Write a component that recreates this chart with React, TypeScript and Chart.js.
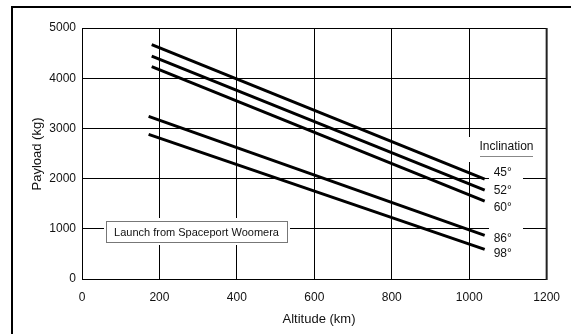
import React, { useEffect, useRef } from "react";
import { Chart, registerables } from "chart.js";

Chart.register(...registerables);

const inclinations = ["45°", "52°", "60°", "86°", "98°"];
const startAltitude = [180, 180, 180, 172, 172];
const endAltitude = [1040, 1040, 1040, 1040, 1040];
const startPayload = [4670, 4440, 4230, 3240, 2880];
const endPayload = [1990, 1770, 1550, 870, 590];
const xAxisTitle = "Altitude (km)";
const yAxisTitle = "Payload (kg)";
const legendTitle = "Inclination";
const noteText = "Launch from Spaceport Woomera";

const labelOffsetY = [-6, 1, 6, 3, 4];
const FONT = "'Liberation Sans', Arial, sans-serif";

const overlayPlugin = {
  id: "overlay",
  beforeDatasetsDraw(chart: any) {
    const ctx = chart.ctx;
    const ca = chart.chartArea;
    ctx.save();
    ctx.fillStyle = "#fff";
    ctx.fillRect(466, 137, 72, 25);
    ctx.fillRect(489, 163, 34, 100);
    ctx.fillRect(104, 218, 186, 27);
    ctx.strokeStyle = "#777";
    ctx.lineWidth = 1;
    ctx.strokeRect(106.5, 221.5, 181, 21);
    ctx.fillStyle = "#111";
    ctx.font = `11px ${FONT}`;
    ctx.textAlign = "center";
    ctx.textBaseline = "middle";
    ctx.fillText(noteText, 196.5, 232.5);
    ctx.fillStyle = "#222";
    ctx.fillRect(ca.right - 1, ca.top, 2, ca.bottom - ca.top + 1);
    ctx.restore();
  },
  afterDatasetsDraw(chart: any) {
    const ctx = chart.ctx;
    const ca = chart.chartArea;
    const xs = chart.scales.x;
    const ys = chart.scales.y;
    ctx.save();
    ctx.font = `12px ${FONT}`;
    ctx.fillStyle = "#111";
    ctx.textAlign = "center";
    ctx.textBaseline = "middle";
    ctx.fillText(legendTitle, 506.5, 147);
    ctx.fillStyle = "#888";
    ctx.fillRect(480, 156, 53, 1);
    ctx.fillStyle = "#111";
    ctx.textAlign = "left";
    inclinations.forEach((lab, i) => {
      const px = xs.getPixelForValue(endAltitude[i]) + 9;
      const py = ys.getPixelForValue(endPayload[i]) + labelOffsetY[i];
      ctx.fillText(lab, px, py);
    });
    ctx.font = `13px ${FONT}`;
    ctx.textAlign = "center";
    ctx.fillText(xAxisTitle, 319, 319);
    ctx.translate(37, 154);
    ctx.rotate(-Math.PI / 2);
    ctx.fillText(yAxisTitle, 0, 0);
    ctx.restore();
    ctx.save();
    ctx.fillStyle = "#000";
    ctx.fillRect(11, 6, 560, 2);
    ctx.fillRect(11, 6, 2, 330);
    ctx.restore();
  },
};

export default function App() {
  const ref = useRef<HTMLCanvasElement>(null);
  useEffect(() => {
    if (!ref.current) return;
    const datasets = inclinations.map((lab, i) => ({
      label: lab,
      data: [
        { x: startAltitude[i], y: startPayload[i] },
        { x: endAltitude[i], y: endPayload[i] },
      ],
      borderColor: "#000",
      backgroundColor: "#000",
      borderWidth: 3,
      pointRadius: 0,
      fill: false,
      tension: 0,
    }));
    const chart = new Chart(ref.current, {
      type: "line",
      data: { datasets },
      options: {
        responsive: false,
        animation: false,
        layout: { padding: { left: 0, top: 28, right: 21, bottom: 0 } },
        plugins: { legend: { display: false }, tooltip: { enabled: false } },
        scales: {
          x: {
            type: "linear",
            min: 0,
            max: 1200,
            ticks: {
              stepSize: 200,
              padding: 11,
              maxRotation: 0,
              color: "#111",
              font: { family: FONT, size: 12 },
              callback: (v: any) => String(v),
            },
            grid: { color: "#000", lineWidth: 1, drawTicks: false },
            border: { color: "#000", width: 1 },
            afterFit: (s: any) => {
              s.height = 55;
            },
          },
          y: {
            type: "linear",
            min: 0,
            max: 5000,
            ticks: {
              stepSize: 1000,
              padding: 6,
              color: "#111",
              font: { family: FONT, size: 12 },
              callback: (v: any) => String(v),
            },
            grid: { color: "#000", lineWidth: 1, drawTicks: false },
            border: { color: "#000", width: 1 },
            afterFit: (s: any) => {
              s.width = 82;
            },
          },
        },
      },
      plugins: [overlayPlugin],
    } as any);
    return () => chart.destroy();
  }, []);
  return (
    <div style={{ position: "fixed", left: 0, top: 0, width: 571, height: 334, background: "#fff" }}>
      <canvas ref={ref} width={571} height={334} style={{ display: "block" }} />
    </div>
  );
}
